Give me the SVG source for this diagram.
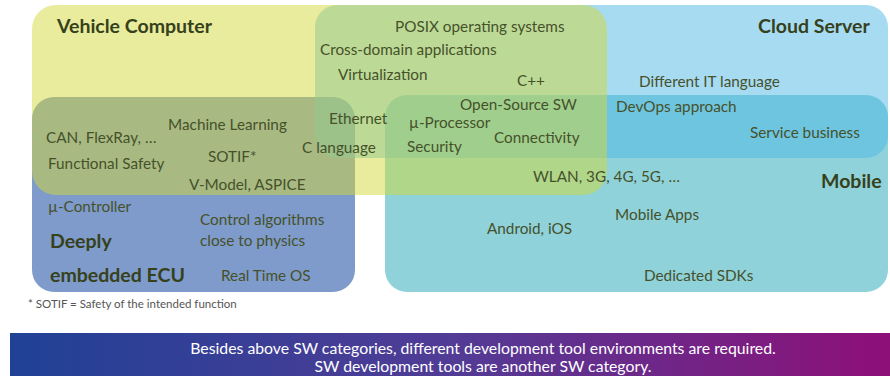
<svg xmlns="http://www.w3.org/2000/svg" width="890" height="376" viewBox="0 0 890 376">
  <defs>
    <linearGradient id="bannerGrad" x1="0" y1="0" x2="1" y2="0">
      <stop offset="0" stop-color="#1f4196"/>
      <stop offset="0.5" stop-color="#513c96"/>
      <stop offset="1" stop-color="#8e0f78"/>
    </linearGradient>
  </defs>
  <style>
    .t { font-family: Lato, "Open Sans", "Liberation Sans", sans-serif; font-size: 15.3px; fill: #46512a; }
    .h { font-family: Lato, "Open Sans", "Liberation Sans", sans-serif; font-size: 19.5px; font-weight: bold; fill: #36411c; }
    .note { font-family: Lato, "Liberation Sans", sans-serif; font-size: 11.5px; fill: #555555; }
    .ban { font-family: Lato, "Open Sans", "Liberation Sans", sans-serif; font-size: 15.8px; fill: #ffffff; text-anchor: middle; }
  </style>
  <rect width="890" height="376" fill="#ffffff"/>

  <!-- category areas, drawn bottom to top so the translucent ones mix -->
  <g id="deeply-embedded-ecu">
    <rect x="32" y="97" width="323" height="195" rx="22" fill="#7e9bcb"/>
  </g>
  <g id="mobile">
    <rect x="385" y="95" width="503" height="197" rx="22" fill="#8fd2da"/>
  </g>
  <g id="cloud-server">
    <rect x="315" y="5" width="573" height="153" rx="22" fill="#4db7e5" fill-opacity="0.5"/>
  </g>
  <g id="vehicle-computer">
    <rect x="32" y="5" width="575" height="190" rx="24" fill="#d1d939" fill-opacity="0.5"/>
  </g>

  <!-- area titles -->
  <g id="titles">
    <text class="h" x="57" y="33">Vehicle Computer</text>
    <text class="h" x="758" y="33">Cloud Server</text>
    <text class="h" x="821" y="188">Mobile</text>
    <text class="h" x="50" y="248">Deeply</text>
    <text class="h" x="50" y="282">embedded ECU</text>
  </g>

  <!-- topics inside the areas -->
  <g id="topics">
    <text class="t" x="395" y="32">POSIX operating systems</text>
    <text class="t" x="320" y="55">Cross-domain applications</text>
    <text class="t" x="338" y="80">Virtualization</text>
    <text class="t" x="517" y="86">C++</text>
    <text class="t" x="460" y="110">Open-Source SW</text>
    <text class="t" x="639" y="87">Different IT language</text>
    <text class="t" x="616" y="112">DevOps approach</text>
    <text class="t" x="750" y="138">Service business</text>
    <text class="t" x="329" y="124">Ethernet</text>
    <text class="t" x="409" y="128">µ-Processor</text>
    <text class="t" x="494" y="143">Connectivity</text>
    <text class="t" x="407" y="152">Security</text>
    <text class="t" x="302" y="153">C language</text>
    <text class="t" x="168" y="130">Machine Learning</text>
    <text class="t" x="46" y="143">CAN, FlexRay, …</text>
    <text class="t" x="208" y="162">SOTIF*</text>
    <text class="t" x="48" y="169">Functional Safety</text>
    <text class="t" x="189" y="190">V-Model, ASPICE</text>
    <text class="t" x="533" y="182">WLAN, 3G, 4G, 5G, …</text>
    <text class="t" x="48" y="212">µ-Controller</text>
    <text class="t" x="200" y="225">Control algorithms</text>
    <text class="t" x="200" y="246">close to physics</text>
    <text class="t" x="221" y="281">Real Time OS</text>
    <text class="t" x="487" y="234">Android, iOS</text>
    <text class="t" x="615" y="220">Mobile Apps</text>
    <text class="t" x="644" y="281">Dedicated SDKs</text>
  </g>

  <text class="note" x="28" y="308">* SOTIF = Safety of the intended function</text>

  <!-- bottom banner -->
  <g id="tools-banner">
    <rect x="10" y="333" width="880" height="43" fill="url(#bannerGrad)"/>
    <text class="ban" x="483" y="354">Besides above SW categories, different development tool environments are required.</text>
    <text class="ban" x="483" y="372">SW development tools are another SW category.</text>
  </g>
</svg>
